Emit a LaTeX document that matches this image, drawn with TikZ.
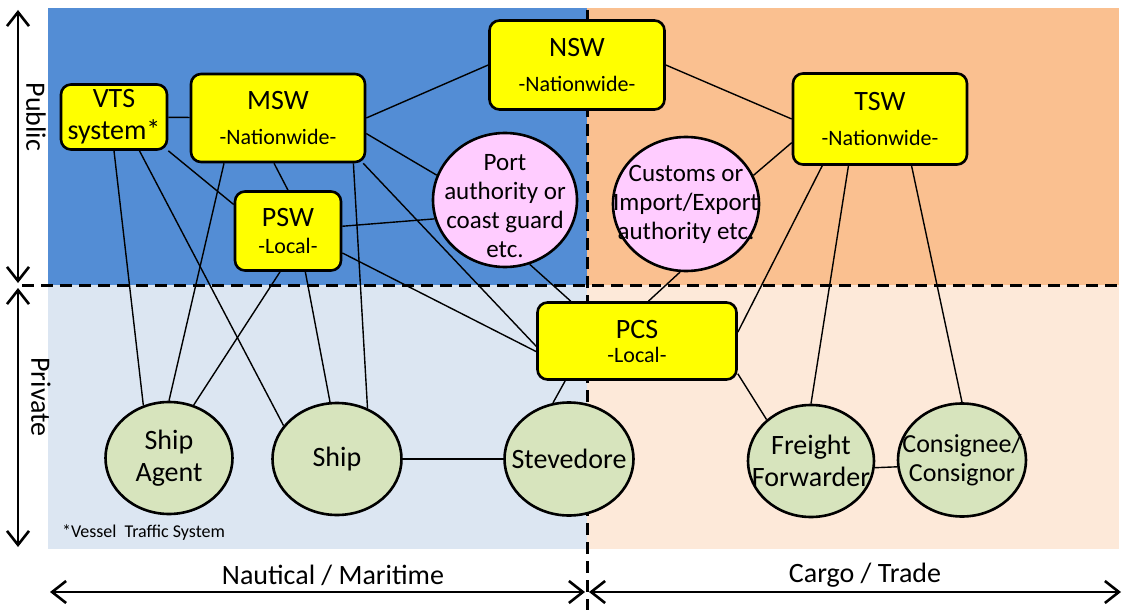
\documentclass[tikz,border=0pt]{standalone}
\usepackage{fontspec}
\setmainfont{Carlito}
\usetikzlibrary{arrows.meta,shapes.geometric}

\definecolor{pubnaut}{HTML}{538DD5}
\definecolor{pubcargo}{HTML}{FAC090}
\definecolor{privnaut}{HTML}{DCE6F2}
\definecolor{privcargo}{HTML}{FDE9D9}
\definecolor{swyellow}{HTML}{FFFF00}
\definecolor{authpink}{HTML}{FFCCFF}
\definecolor{actorgreen}{HTML}{D7E4BD}

\newcommand{\bigtxt}{\fontsize{14pt}{16pt}\selectfont}
\newcommand{\smalltxt}{\fontsize{11pt}{13pt}\selectfont}
\newcommand{\authtxt}{\fontsize{12.5pt}{14.5pt}\selectfont}

\tikzset{
  swbox/.style={draw, line width=1.3pt, rounded corners=5pt, fill=swyellow,
    align=center, inner sep=0pt, font=\bigtxt},
  authcircle/.style={ellipse, draw, line width=1.3pt, fill=authpink, inner sep=0pt},
  actor/.style={ellipse, draw, line width=1.3pt, fill=actorgreen, inner sep=0pt},
  link/.style={line width=0.7pt},
  sector/.style={line width=1.3pt,
    {Straight Barb[length=7pt,width=11pt]}-{Straight Barb[length=7pt,width=11pt]}},
  divider/.style={line width=1.5pt, dash pattern=on 6pt off 3.5pt},
}

\begin{document}
\begin{tikzpicture}[x=0.5pt,y=-0.5pt]
    \useasboundingbox (0,0) rectangle (1125,610);

    % the four quadrants
    \fill[pubnaut] (48,8) rectangle (587,285);
    \fill[pubcargo] (587,8) rectangle (1119,285);
    \fill[privnaut] (48,285) rectangle (587,549);
    \fill[privcargo] (587,285) rectangle (1119,549);

    \draw[divider] (22,285) -- (1120,285);
    \draw[divider] (587,10) -- (587,610);

    \draw[sector] (18,10) -- (18,283);
    \draw[sector] (18,288) -- (18,547);
    \draw[sector] (50,592) -- (585,592);
    \draw[sector] (589,592) -- (1121,592);

    \node[rotate=-90, font=\bigtxt] (public) at (36,117) {Public};
    \node[rotate=-90, font=\bigtxt] (private) at (41,397) {Private};
    \node[font=\bigtxt] (nautical) at (333,575) {Nautical / Maritime};
    \node[font=\bigtxt] (cargo) at (865,575) {Cargo / Trade};
    \node[anchor=west, font=\fontsize{9pt}{11pt}\selectfont] (vtsnote) at (55,533)
        {*Vessel\ \ Traffic System};

    % single windows
    \node[swbox, minimum width=53pt, minimum height=32.5pt] (vts) at (114,117) {VTS\\system*};
    \node[swbox, minimum width=87pt, minimum height=44pt] (msw) at (278,118)
        {MSW\\[1.5pt]{\smalltxt -Nationwide-}};
    \node[swbox, minimum width=87.5pt, minimum height=44.5pt] (nsw) at (577,65)
        {NSW\\[1.5pt]{\smalltxt -Nationwide-}};
    \node[swbox, minimum width=87pt, minimum height=45.5pt] (tsw) at (880,119)
        {TSW\\[1.5pt]{\smalltxt -Nationwide-}};
    \node[swbox, minimum width=53pt, minimum height=39.5pt] (psw) at (288,231)
        {PSW\\[-2.5pt]{\smalltxt -Local-}};
    \node[swbox, minimum width=99.5pt, minimum height=38.5pt] (pcs) at (637,341)
        {PCS\\[-4pt]{\smalltxt -Local-}};

    % authorities
    \node[authcircle, minimum width=72pt, minimum height=67pt,
        label={[font=\authtxt, align=center, yshift=-3pt]center:{Port\\authority or\\coast guard\\etc.}}]
        (port) at (505,200) {};
    \node[authcircle, minimum width=73pt, minimum height=67pt,
        label={[font=\authtxt, align=center]center:{Customs or\\Import/Export\\authority etc.}}]
        (customs) at (686,204) {};

    % private actors
    \node[actor, minimum width=63.5pt, minimum height=56pt,
        label={[font=\bigtxt, align=center]center:{Ship\\Agent}}] (agent) at (169,458) {};
    \node[actor, minimum width=64.5pt, minimum height=56pt,
        label={[font=\bigtxt]center:Ship}] (ship) at (337,459) {};
    \node[actor, minimum width=64.5pt, minimum height=56.5pt,
        label={[font=\bigtxt]center:Stevedore}] (steve) at (569,459) {};
    \node[actor, minimum width=63pt, minimum height=56pt,
        label={[font=\bigtxt, align=center]center:{Freight\\Forwarder}}] (freight) at (811,461) {};
    \node[actor, minimum width=64pt, minimum height=56.5pt,
        label={[font=\fontsize{13pt}{14.5pt}\selectfont, align=center]center:{Consignee/\\Consignor}}]
        (consig) at (962,460) {};

    % links
    \draw[link] (vts) -- (msw);
    \draw[link] (vts.south east) -- (psw.154);
    \draw[link] (vts.south) -- (agent.116);
    \draw[link] (vts.-53) -- (ship.148);
    \draw[link] (msw.east) -- (nsw.west);
    \draw[link] (msw.-10) -- (port.160);
    \draw[link] (msw.265) -- (psw.north);
    \draw[link] (msw.220) -- (agent.north);
    \draw[link] (msw.-31) -- (ship.59);
    \draw[link] (msw.-28) -- (pcs.183);
    \draw[link] (psw.5) -- (port.195);
    \draw[link] (psw.-22) -- (pcs.186);
    \draw[link] (psw.259) -- (agent.65);
    \draw[link] (psw.-67) -- (ship.97);
    \draw[link] (port.-69) -- (pcs.149);
    \draw[link] (nsw.east) -- (tsw.west);
    \draw[link] (tsw.195) -- (customs.23);
    \draw[link] (tsw.219) -- (pcs.5);
    \draw[link] (tsw.236) -- (freight.north);
    \draw[link] (tsw.-56) -- (consig.north);
    \draw[link] (customs.265) -- (pcs.74);
    \draw[link] (pcs.209) -- (steve.106);
    \draw[link] (pcs.-18) -- (freight.137);
    \draw[link] (ship) -- (steve);
    \draw[link] (freight.-6) -- (consig.186);
\end{tikzpicture}
\end{document}
